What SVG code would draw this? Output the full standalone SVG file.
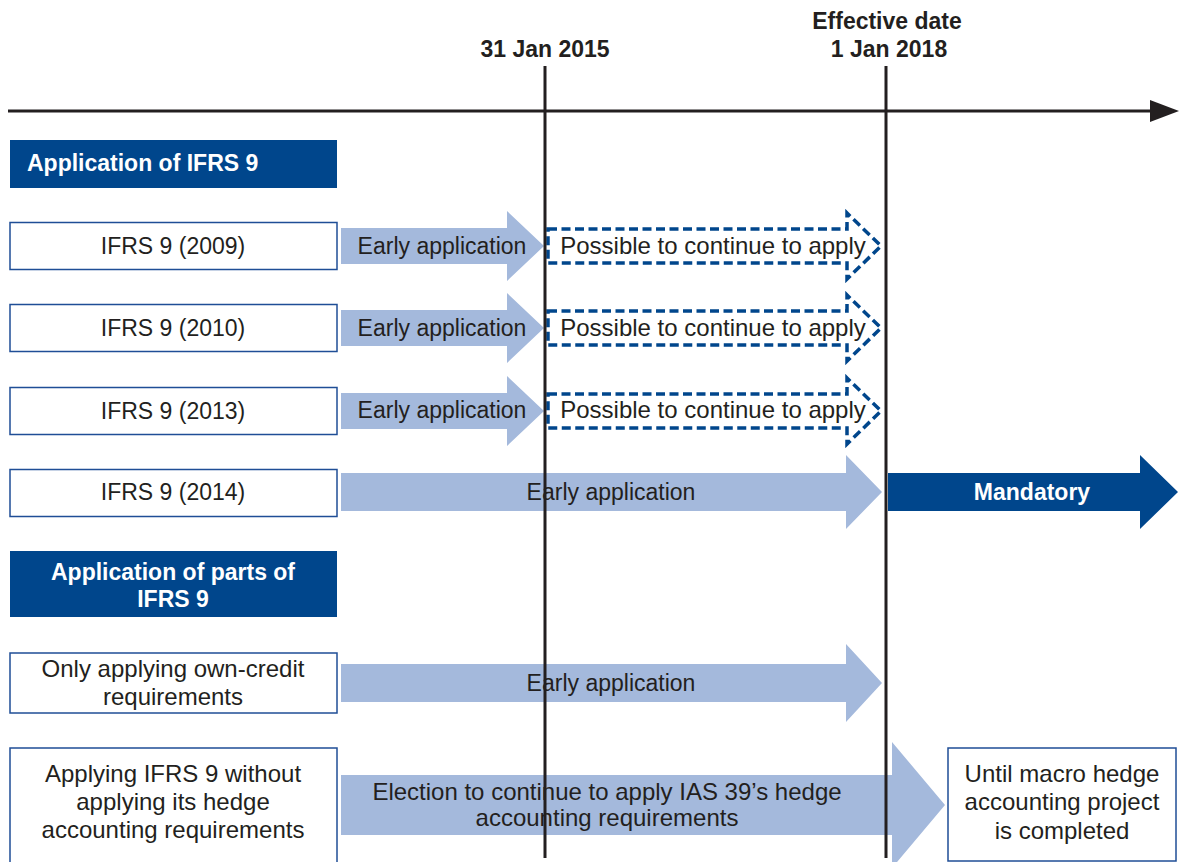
<svg xmlns="http://www.w3.org/2000/svg" width="1182" height="862" viewBox="0 0 1182 862">
<style>
.t{font-family:"Liberation Sans",Arial,sans-serif;font-size:23px;fill:#231f20;text-anchor:middle}
.w{font-size:24px}
.b{font-family:"Liberation Sans",Arial,sans-serif;font-size:23px;font-weight:bold;text-anchor:middle}
.hd{fill:#ffffff}
.dk{fill:#231f20}
.box{fill:#ffffff;stroke:#1f4e96;stroke-width:1.5}
.hbox{fill:#00468c}
.la{fill:#a4b9dc}
.ma{fill:#00468c}
.da{fill:none;stroke:#00468c;stroke-width:3.5;stroke-dasharray:9 4.5}
.ln{stroke:#231f20;stroke-width:3;fill:none}
</style>
<rect width="1182" height="862" fill="#ffffff"/>

<g id="labels">
<text class="b dk" x="545" y="57">31 Jan 2015</text>
<text class="b dk" x="887" y="29">Effective date</text>
<text class="b dk" x="889" y="57">1 Jan 2018</text>
</g>

<g id="hdr1"><rect class="hbox" x="10" y="140" width="327" height="48"/><text class="b hd" x="27" y="171" style="text-anchor:start">Application of IFRS 9</text></g>

<g id="box2009"><rect class="box" x="10" y="222.5" width="327" height="47"/><text class="t" x="173" y="254">IFRS 9 (2009)</text></g>
<g id="box2010"><rect class="box" x="10" y="304.5" width="327" height="47"/><text class="t" x="173" y="336">IFRS 9 (2010)</text></g>
<g id="box2013"><rect class="box" x="10" y="387.5" width="327" height="47"/><text class="t" x="173" y="419">IFRS 9 (2013)</text></g>
<g id="box2014"><rect class="box" x="10" y="469.5" width="327" height="47"/><text class="t" x="173" y="500">IFRS 9 (2014)</text></g>

<g id="hdr2"><rect class="hbox" x="10" y="551" width="327" height="66"/><text class="b hd" x="173" y="580">Application of parts of</text><text class="b hd" x="173" y="607">IFRS 9</text></g>

<g id="boxOwn"><rect class="box" x="10" y="653" width="327" height="60"/><text class="t w" x="173" y="677">Only applying own-credit</text><text class="t w" x="173" y="705">requirements</text></g>
<g id="boxHedge"><rect class="box" x="10" y="748" width="327" height="115"/><text class="t w" x="173" y="782">Applying IFRS 9 without</text><text class="t w" x="173" y="810">applying its hedge</text><text class="t w" x="173" y="838">accounting requirements</text></g>
<g id="boxMacro"><rect class="box" x="948" y="748" width="228" height="113"/><text class="t w" x="1062" y="782">Until macro hedge</text><text class="t w" x="1062" y="810">accounting project</text><text class="t w" x="1062" y="839">is completed</text></g>

<g id="early2009"><polygon class="la" points="341,228 507,228 507,211 544,246 507,281 507,264 341,264"/><text class="t" x="442" y="254">Early application</text></g>
<g id="early2010"><polygon class="la" points="341,310 507,310 507,293 544,328 507,363 507,346 341,346"/><text class="t" x="442" y="336">Early application</text></g>
<g id="early2013"><polygon class="la" points="341,393 507,393 507,376 544,411 507,446 507,429 341,429"/><text class="t" x="442" y="418">Early application</text></g>

<g id="cont2009"><polygon class="da" points="548,229 847,229 847,213 881,246 847,279 847,263 548,263"/><text class="t w" x="713" y="254">Possible to continue to apply</text></g>
<g id="cont2010"><polygon class="da" points="548,311 847,311 847,295 881,328 847,361 847,345 548,345"/><text class="t w" x="713" y="336">Possible to continue to apply</text></g>
<g id="cont2013"><polygon class="da" points="548,394 847,394 847,378 881,411 847,444 847,428 548,428"/><text class="t w" x="713" y="418">Possible to continue to apply</text></g>

<g id="early2014"><polygon class="la" points="341,473 846,473 846,455 882,492 846,529 846,511 341,511"/><text class="t" x="611" y="500">Early application</text></g>
<g id="mandatory"><polygon class="ma" points="888,473 1140,473 1140,455 1178,492 1140,529 1140,511 888,511"/><text class="b hd" x="1032" y="500">Mandatory</text></g>

<g id="earlyOwn"><polygon class="la" points="341,664 846,664 846,644 882,683 846,722 846,702 341,702"/><text class="t" x="611" y="691">Early application</text></g>
<g id="election"><polygon class="la" points="341,775 892,775 892,742 945,805 892,868 892,835 341,835"/><text class="t w" x="607" y="800">Election to continue to apply IAS 39’s hedge</text><text class="t w" x="607" y="826">accounting requirements</text></g>

<g id="connectors">
<line class="ln" x1="8" y1="111" x2="1155" y2="111"/>
<polygon class="dk" points="1150,100 1179,111 1150,122"/>
<line class="ln" x1="545" y1="66" x2="545" y2="858"/>
<line class="ln" x1="886" y1="66" x2="886" y2="858"/>
</g>
</svg>
